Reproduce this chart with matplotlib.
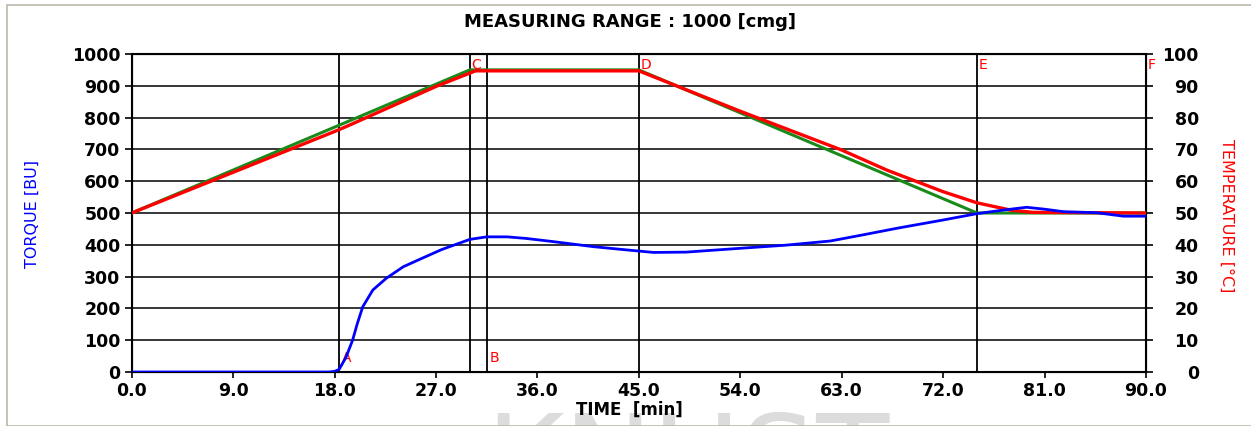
import numpy as np
import matplotlib
matplotlib.use("Agg")
import matplotlib.pyplot as plt

# torque curve (BU) vs time (min)
torque_t = [0.0, 17.5, 18.0, 18.4, 19.0, 19.6, 20.0, 20.5, 21.4, 22.6, 24.1, 25.6,
            27.5, 30.0, 31.5, 33.3, 35.0, 37.4, 41.0, 43.9, 46.3, 49.2, 54.0,
            58.1, 62.0, 65.0, 67.9, 72.0, 75.0, 77.3, 79.4, 81.0, 82.7, 85.6,
            88.0, 90.0]
torque_v = [0, 0, 2, 8, 45, 100, 150, 205, 258, 295, 331, 355,
            385, 417, 425, 425, 420, 410, 394, 384, 376, 377, 389,
            399, 412, 432, 452, 478, 498, 509, 518, 512, 504, 501,
            490, 490]

# temperature profile set point (green) and measured (red), deg C
set_t = [0, 30, 45, 75, 90]
set_v = [50, 95, 95, 50, 50]
meas_t = [0, 9, 18.4, 20, 27, 30.5, 31.5, 45, 54, 63, 67, 72, 75, 78, 80, 90]
meas_v = [50, 62.8, 76.2, 78.7, 89.8, 94.7, 94.7, 94.7, 82, 69.8, 63.5, 56.7, 53.2, 50.9, 50.2, 50]

# event markers
mark_names = ["A", "C", "B", "D", "E"]
mark_pos = [18.4, 30.0, 31.5, 45.0, 75.0]

fig = plt.figure(figsize=(12.51, 4.26), dpi=100)
fig.patches.append(plt.Rectangle((6.5/1251, 0), 1.2, (421/426), transform=fig.transFigure,
                                 fill=False, edgecolor="#bdb8ac", lw=1.2))
# faint watermark, cut by the bottom edge as in the source image
fig.text(687/1251, 1 - 409/426, "KNUST", fontsize=86, color="#dcdcdc",
         ha="center", va="top", zorder=0)

ax = fig.add_axes([131.7/1251, (426-372)/426, (1146-131.7)/1251, (372-54)/426])
ax.set_xlim(0, 90)
ax.set_ylim(0, 1000)
ax.set_xticks(np.arange(0, 91, 9))
ax.set_xticklabels(["%.1f" % v for v in np.arange(0, 91, 9)])
ax.set_yticks(np.arange(0, 1001, 100))
for y in range(100, 1000, 100):
    ax.axhline(y, color="black", lw=1.1, zorder=1)
for x in mark_pos:
    ax.axvline(x, color="black", lw=1.3, zorder=1)
for sp in ax.spines.values():
    sp.set_linewidth(1.5)

ax2 = ax.twinx()
ax2.set_ylim(0, 100)
ax2.set_yticks(np.arange(0, 101, 10))
ax2.plot(set_t, set_v, color="#1a8a1a", lw=2.2, zorder=2)
ax2.plot(meas_t, meas_v, color="#ff0000", lw=2.4, zorder=3)

ax3 = ax.twinx()
ax3.set_ylim(0, 1000)
ax3.axis("off")
ax3.plot(torque_t, torque_v, color="#0000ff", lw=2.0, zorder=4)

# marker letters
for x, n in zip(mark_pos, mark_names):
    if n in ("A", "B"):
        ax3.text(x + 0.25, 45, n, color="red", fontsize=10, ha="left", va="center")
    else:
        ax3.text(x + 0.15, 965, n, color="red", fontsize=10, ha="left", va="center")
ax3.text(90.15, 965, "F", color="red", fontsize=10, ha="left", va="center", clip_on=False)

ax.tick_params(axis="both", direction="out", length=5, width=1.2, labelsize=12.5)
ax.tick_params(axis="y", pad=3)
ax.tick_params(axis="x", length=4, pad=3)
ax2.tick_params(axis="y", direction="out", length=5, width=1.2, labelsize=12.5, pad=33)
for lab in ax.get_xticklabels() + ax.get_yticklabels() + ax2.get_yticklabels():
    lab.set_fontweight("bold")
for lab in ax2.get_yticklabels():
    lab.set_horizontalalignment("right")

fig.text(630/1251, 1 - 22/426, "MEASURING RANGE : 1000 [cmg]", fontsize=13,
         fontweight="bold", ha="center", va="center")
fig.text(629/1251, 1 - 410/426, "TIME  [min]", fontsize=12,
         fontweight="bold", ha="center", va="center")
fig.text(32/1251, 1 - 214/426, "TORQUE [BU]", fontsize=11.5, color="blue",
         rotation=90, ha="center", va="center")
fig.text(1227/1251, 1 - 216/426, "TEMPERATURE [°C]", fontsize=11.5, color="red",
         rotation=-90, ha="center", va="center")

fig.savefig("out.png", dpi=100)
